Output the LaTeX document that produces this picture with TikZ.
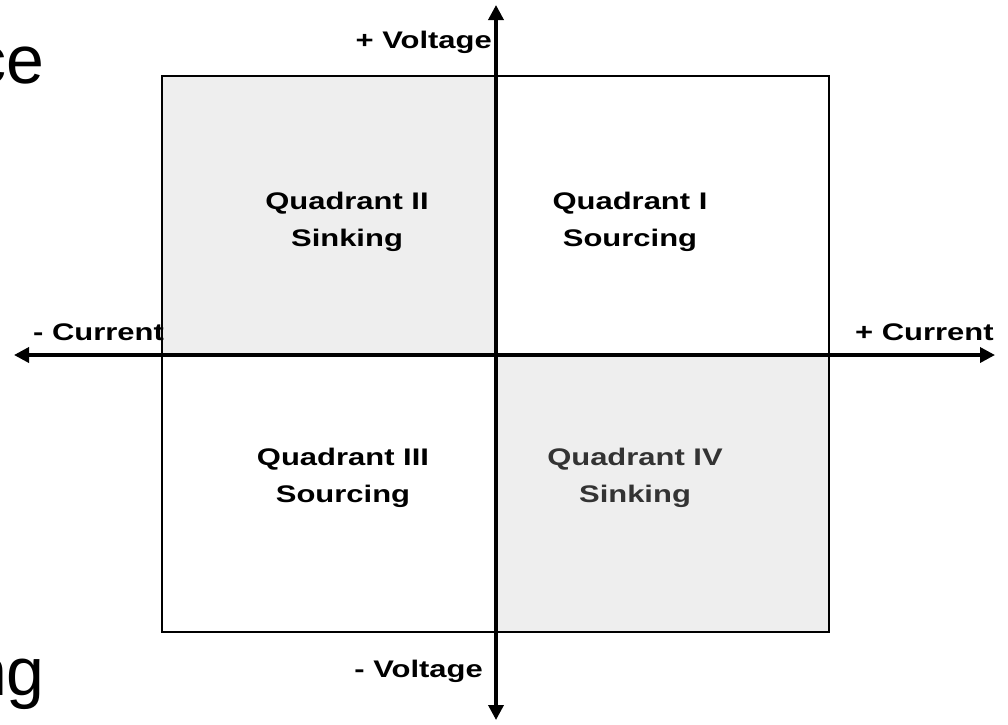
\documentclass[tikz,border=0pt]{standalone}
\usepackage{fontspec}
\setmainfont{Liberation Sans}
\newfontfamily\lblfont{Liberation Sans}[FakeStretch=1.29]
\usetikzlibrary{arrows.meta}
\definecolor{quadgray}{HTML}{EEEEEE}
\definecolor{darktext}{HTML}{333333}
\tikzset{
  quad/.style={draw=black, line width=1.5pt},
  graybox/.style={quad, fill=quadgray},
  axis/.style={line width=3.5pt, {Triangle[length=15pt,width=15pt]}-{Triangle[length=15pt,width=15pt]}},
  lbl/.style={inner sep=0pt, anchor=base, font=\lblfont\bfseries\fontsize{24}{30}\selectfont},
  big/.style={inner sep=0pt, anchor=base east, font=\fontsize{68}{72}\selectfont}
}
\begin{document}
\begin{tikzpicture}[x=1pt,y=-1pt]
\useasboundingbox (0,0) rectangle (1008,724);
% quadrants
\draw[graybox] (162,76) rectangle (496,355);
\draw[quad] (496,76) rectangle (829,355);
\draw[quad] (162,355) rectangle (496,632);
\draw[graybox] (496,355) rectangle (829,632);
% axes
\coordinate (vt) at (496,5);
\coordinate (vb) at (496,720);
\coordinate (hl) at (14,355);
\coordinate (hr) at (995,355);
\draw[axis] (vb) -- (vt);
\draw[axis] (hl) -- (hr);
% quadrant labels
\node[lbl] (q2a) at (347,209) {Quadrant II};
\node[lbl] (q2b) at (347,246) {Sinking};
\node[lbl] (q1a) at (630,209) {Quadrant I};
\node[lbl] (q1b) at (630,246) {Sourcing};
\node[lbl] (q3a) at (343,465) {Quadrant III};
\node[lbl] (q3b) at (343,502) {Sourcing};
\node[lbl, text=darktext] (q4a) at (635,465) {Quadrant IV};
\node[lbl, text=darktext] (q4b) at (635,502) {Sinking};
% axis labels
\node[lbl, anchor=base east] (pv) at (492,48) {+ Voltage};
\node[lbl, anchor=base east] (nv) at (483,677) {- Voltage};
\node[lbl, anchor=base west] (nc) at (33,340) {- Current};
\node[lbl, anchor=base west] (pc) at (855,340) {+ Current};
% partial large text at left edge
\node[big] (ce) at (45,83) {ce};
\node[big] (ng) at (45,695) {ng};
\end{tikzpicture}
\end{document}
